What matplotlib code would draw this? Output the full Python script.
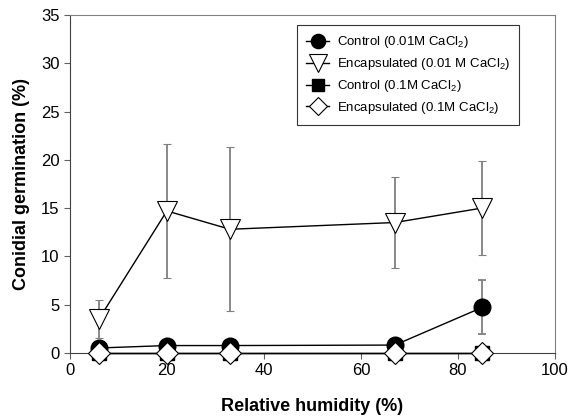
import matplotlib
matplotlib.use('Agg')
import matplotlib.pyplot as plt

plt.rcParams['font.family'] = ['Liberation Sans', 'DejaVu Sans']
plt.rcParams['mathtext.default'] = 'regular'

# relative humidity levels
rh = [6, 20, 33, 67, 85]

# germination (%) and error
ctrl_001 = [0.5, 0.75, 0.75, 0.8, 4.7]
ctrl_001_err = [0.3, 0.2, 0.2, 0.2, 2.8]
enc_001 = [3.5, 14.7, 12.8, 13.5, 15.0]
enc_001_err = [2.0, 6.9, 8.5, 4.7, 4.9]
ctrl_01 = [0, 0, 0, 0, 0]
enc_01 = [0, 0, 0, 0, 0]

labels = ['Control (0.01M CaCl$_2$)', 'Encapsulated (0.01 M CaCl$_2$)',
          'Control (0.1M CaCl$_2$)', 'Encapsulated (0.1M CaCl$_2$)']

fig = plt.figure(figsize=(5.68, 4.18), dpi=100)
ax = fig.add_axes([0.123, 0.156, 0.854, 0.808])

ekw = dict(ecolor='#808080', elinewidth=1.3, capsize=3, capthick=1.3)
h1 = ax.errorbar(rh, ctrl_001, yerr=ctrl_001_err, color='black', lw=1,
                 marker='o', ms=12, mfc='black', mec='black', zorder=3, **ekw)
h2 = ax.errorbar(rh, enc_001, yerr=enc_001_err, color='black', lw=1,
                 marker='v', ms=15, mfc='white', mec='black', mew=0.8, zorder=3, **ekw)
h3, = ax.plot(rh, ctrl_01, color='black', lw=1, marker='s', ms=10, mfc='black',
              mec='black', zorder=4, clip_on=False)
h4, = ax.plot(rh, enc_01, color='black', lw=1, marker='D', ms=11, mfc='white',
              mec='black', mew=0.8, zorder=5, clip_on=False)
for c in (h1, h2):
    c.lines[0].set_clip_on(False)

ax.set_xlim(0, 100)
ax.set_ylim(0, 35)
ax.set_xticks(range(0, 101, 20))
ax.set_yticks(range(0, 36, 5))
ax.tick_params(direction='out', length=4, labelsize=12, color='#606060')
for s in ['top', 'right']:
    ax.spines[s].set_color('#808080')
ax.spines['left'].set_color('#404040')
ax.spines['bottom'].set_color('#404040')

ax.set_xlabel('Relative humidity (%)', fontsize=13, fontweight='bold', labelpad=14)
ax.set_ylabel('Conidial germination (%)', fontsize=13, fontweight='bold', labelpad=8)

leg = ax.legend([h1[0], h2[0], h3, h4], labels, loc='upper right',
                bbox_to_anchor=(0.94, 0.99), fontsize=9.5,
                frameon=True, fancybox=False, edgecolor='black', markerscale=0.85,
                handlelength=1.7, borderpad=0.7, labelspacing=0.45, handletextpad=0.6)
leg.get_frame().set_linewidth(0.8)

fig.savefig('out.png', dpi=100)
